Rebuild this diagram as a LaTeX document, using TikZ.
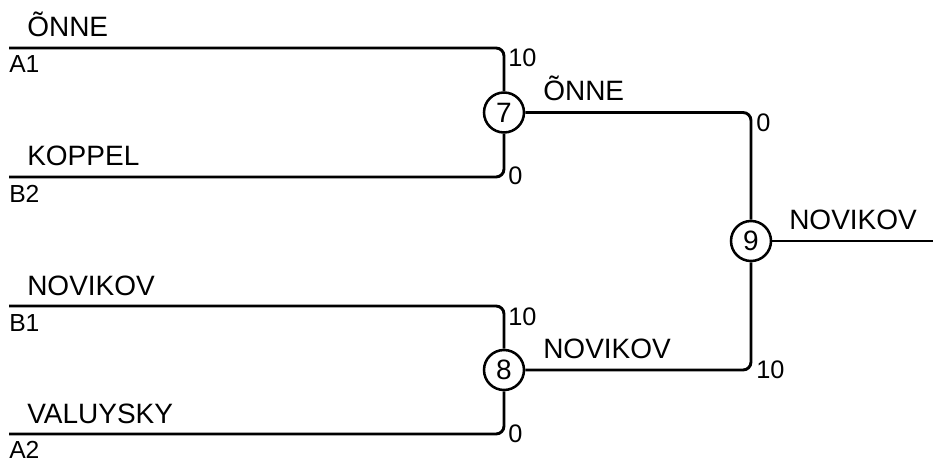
\documentclass[tikz,border=0pt]{standalone}
\usepackage{fontspec}
\setmainfont{Liberation Sans}
\usepackage{tikz}
\usetikzlibrary{positioning,calc}

\begin{document}
\begin{tikzpicture}[
  x=0.75pt, y=-0.75pt,
  wire/.style={line width=2.2pt, rounded corners=6pt},
  game/.style={circle, draw, line width=1.9pt, minimum size=30pt, inner sep=0pt, font=\fontsize{21}{24}\selectfont},
  player/.style={anchor=base west, inner sep=0pt, font=\fontsize{21}{24}\selectfont},
  seed/.style={anchor=base west, inner sep=0pt, font=\fontsize{18.5}{21}\selectfont},
  score/.style={anchor=base west, inner sep=0pt, font=\fontsize{19}{21}\selectfont},
]
\useasboundingbox (0,0) rectangle (933,460);

% --- Games ---
\node[game] (g7) at (504,112.5) {7};
\node[game] (g8) at (504,370) {8};
\node[game] (g9) at (751,241) {9};

% --- Entry lines ---
\coordinate (a1) at (9,48);
\coordinate (b2) at (9,177);
\coordinate (b1) at (9,306);
\coordinate (a2) at (9,434);
\coordinate (champ) at (933,241);

\draw[wire] (a1) -| (g7);
\draw[wire] (b2) -| (g7);
\draw[wire] (b1) -| (g8);
\draw[wire] (a2) -| (g8);
\draw[wire] (g7) -| (g9);
\draw[wire] (g8) -| (g9);
\draw[wire] (g9) -- (champ);

% --- Players and seeds ---
\node[player] (pA1) at ($(a1)+(18,-11)$) {ÕNNE};
\node[seed] (sA1) at ($(a1)+(0,25)$) {A1};
\node[player] (pB2) at ($(b2)+(18,-11)$) {KOPPEL};
\node[seed] (sB2) at ($(b2)+(0,25)$) {B2};
\node[player] (pB1) at ($(b1)+(18,-11)$) {NOVIKOV};
\node[seed] (sB1) at ($(b1)+(0,25)$) {B1};
\node[player] (pA2) at ($(a2)+(18,-11)$) {VALUYSKY};
\node[seed] (sA2) at ($(a2)+(0,24)$) {A2};

% --- Winners ---
\node[player] (w7) at ($(g7)+(39,-12)$) {ÕNNE};
\node[player] (w8) at ($(g8)+(39,-12)$) {NOVIKOV};
\node[player] (w9) at ($(g9)+(38,-12)$) {NOVIKOV};

% --- Scores ---
\node[score] (sc7a) at ($(g7|-a1)+(4,19)$) {10};
\node[score] (sc7b) at ($(g7|-b2)+(4,8)$) {0};
\node[score] (sc8a) at ($(g8|-b1)+(4,19)$) {10};
\node[score] (sc8b) at ($(g8|-a2)+(4,8)$) {0};
\node[score] (sc9a) at ($(g9|-g7)+(5,19)$) {0};
\node[score] (sc9b) at ($(g9|-g8)+(5,8)$) {10};

\end{tikzpicture}
\end{document}
